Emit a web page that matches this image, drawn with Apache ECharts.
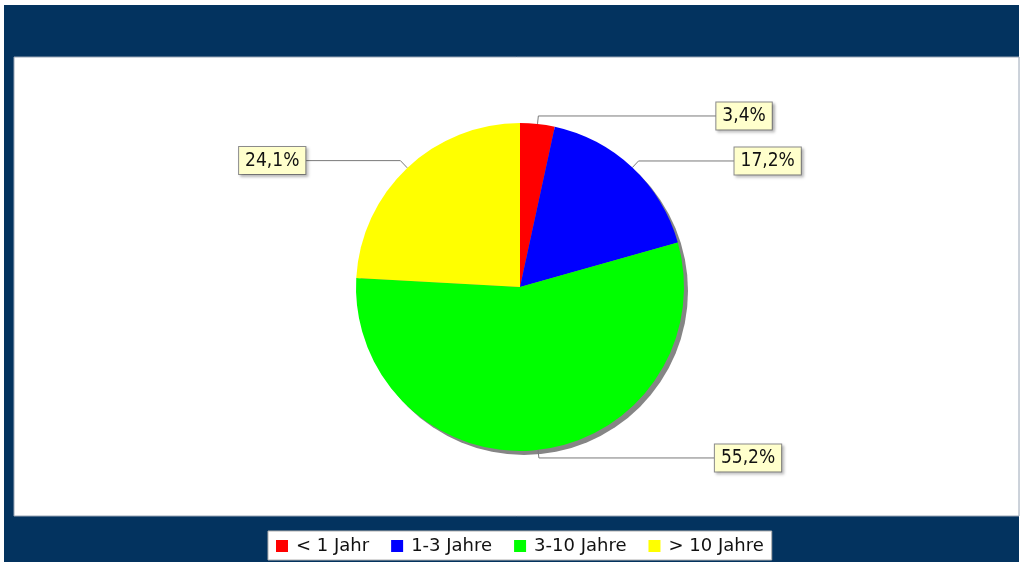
<!DOCTYPE html>
<html>
<head>
<meta charset="utf-8">
<script src="https://cdn.jsdelivr.net/npm/echarts@6/dist/echarts.min.js"></script>
<style>
  html, body { margin: 0; padding: 0; background: #ffffff; }
  #chart { width: 1021px; height: 562px; }
</style>
</head>
<body>
<div id="chart"></div>
<script>
// Altersverteilung (Anteile in Prozent)
const categories = ['< 1 Jahr', '1-3 Jahre', '3-10 Jahre', '> 10 Jahre'];
const shares = [3.4, 17.2, 55.2, 24.1];
const sliceColors = ['#ff0000', '#0000ff', '#00ff00', '#ffff00'];

// Guide line lengths (radial part, horizontal part) per slice
const guideRadial = [8, 9, 8, 10];
const guideHorizontal = [178, 96, 176, 95];

const FONT = '"DejaVu Sans Condensed", "DejaVu Sans", sans-serif';
const LEGEND_FONT = '"DejaVu Sans", sans-serif';
const NAVY = '#03335f';

const chart = echarts.init(document.getElementById('chart'), null, { renderer: 'canvas' });

const pieCenter = [520, 287];
const pieRadius = 164;

const option = {
  animation: false,
  backgroundColor: '#ffffff',
  graphic: [
    { type: 'rect', z: -10, silent: true,
      shape: { x: 4, y: 5, width: 1015, height: 557 },
      style: { fill: NAVY } },
    { type: 'rect', z: -9, silent: true,
      shape: { x: 14, y: 57, width: 1005, height: 459 },
      style: { fill: '#ffffff', stroke: '#9aa6b6', lineWidth: 1 } }
  ],
  legend: {
    data: categories,
    left: 268,
    top: 531,
    width: 530,
    padding: [6, 8, 5, 8],
    itemGap: 22,
    itemWidth: 12,
    itemHeight: 12,
    icon: 'rect',
    backgroundColor: '#ffffff',
    borderColor: '#b0b0b0',
    borderWidth: 1,
    textStyle: { fontFamily: LEGEND_FONT, fontSize: 18, color: '#111111', padding: [0, 0, 0, 3] }
  },
  series: [
    {
      // drop shadow behind the pie
      type: 'pie',
      silent: true,
      z: 1,
      center: [pieCenter[0] + 4, pieCenter[1] + 4],
      radius: pieRadius,
      label: { show: false },
      labelLine: { show: false },
      itemStyle: { color: '#858585' },
      data: [{ value: 1, name: '' }]
    },
    {
      type: 'pie',
      z: 2,
      center: pieCenter,
      radius: pieRadius,
      startAngle: 90,
      clockwise: true,
      avoidLabelOverlap: false,
      color: sliceColors,
      itemStyle: { borderWidth: 0 },
      label: {
        show: true,
        position: 'outside',
        distanceToLabelLine: 0,
        formatter: p => String(p.value).replace('.', ',') + '%',
        fontFamily: FONT,
        fontSize: 19,
        lineHeight: 20,
        color: '#111111',
        backgroundColor: '#ffffcc',
        borderColor: '#8c8c8c',
        borderWidth: 1,
        padding: [4, 6, 3, 6],
        shadowColor: 'rgba(0,0,0,0.25)',
        shadowOffsetX: 2,
        shadowOffsetY: 2,
        shadowBlur: 3
      },
      labelLine: {
        show: true,
        lineStyle: { color: '#7a7a7a', width: 1 }
      },
      emphasis: { disabled: true },
      data: categories.map((name, i) => ({
        name,
        value: shares[i],
        labelLine: { length: guideRadial[i], length2: guideHorizontal[i] }
      }))
    }
  ]
};

chart.setOption(option);
</script>
</body>
</html>
